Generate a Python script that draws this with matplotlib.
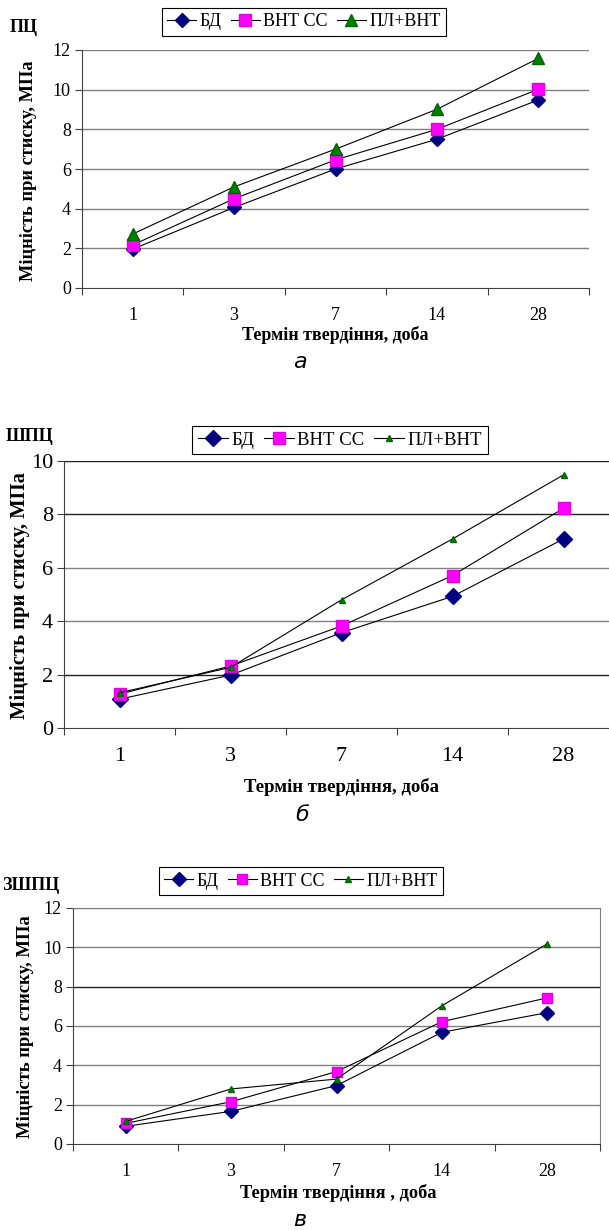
import matplotlib
matplotlib.use('Agg')
import matplotlib.pyplot as plt

# Data
days = ['1', '3', '7', '14', '28']
series_names = ['БД', 'ВНТ СС', 'ПЛ+ВНТ']

# a) ПЦ
pc_bd = [1.96, 4.06, 6.0, 7.5, 9.48]
pc_vnt = [2.17, 4.5, 6.46, 8.0, 10.02]
pc_pl = [2.72, 5.1, 7.0, 9.01, 11.58]

# б) ШПЦ
shpc_bd = [1.08, 1.98, 3.57, 4.93, 7.08]
shpc_vnt = [1.27, 2.32, 3.82, 5.71, 8.23]
shpc_pl = [1.32, 2.27, 4.8, 7.08, 9.48]

# в) ЗШПЦ
zshpc_bd = [0.9, 1.66, 2.97, 5.68, 6.68]
zshpc_vnt = [1.05, 2.15, 3.68, 6.22, 7.43]
zshpc_pl = [1.15, 2.8, 3.3, 7.03, 10.18]

W, H = 609, 1230
fig = plt.figure(figsize=(W / 100, H / 100), dpi=100)
plt.rcParams['font.family'] = ['Liberation Serif', 'DejaVu Serif']


def px(l, t, r, b):
    return [l / W, 1 - b / H, (r - l) / W, (b - t) / H]


def fx(x):
    return x / W


def fy(y):
    return 1 - y / H


def panel(box, data, ymax, tick_fs, ms, tri_ms, dark_lines, full_box):
    ax = fig.add_axes(px(*box))
    x = range(len(days))
    bd, vnt, pl = data
    ax.plot(x, bd, color='black', lw=0.8, marker='D', ms=ms[0],
            mfc='#000080', mec='#000080', label=series_names[0], zorder=3)
    ax.plot(x, vnt, color='black', lw=0.8, marker='s', ms=ms[1],
            mfc='#ff00ff', mec='#e000e0', label=series_names[1], zorder=3)
    ax.plot(x, pl, color='black', lw=0.8, marker='^', ms=tri_ms,
            mfc='#008000', mec='#006400', label=series_names[2], zorder=3)
    ax.set_xlim(-0.5, len(days) - 0.5)
    ax.set_ylim(0, ymax)
    ax.set_yticks(range(0, ymax + 1, 2))
    for v in range(2, ymax + 1, 2):
        c = '#202020' if v in dark_lines else '#808080'
        ax.axhline(v, color=c, lw=1.0, zorder=1)
    ax.set_xticks([i - 0.5 for i in range(len(days) + 1)])
    ax.set_xticklabels([])
    ax.set_xticks(list(x), minor=True)
    ax.set_xticklabels(days, minor=True)
    ax.tick_params(axis='x', which='major', direction='out', length=5,
                   color='#404040')
    ax.tick_params(axis='x', which='minor', length=0, pad=14,
                   labelsize=tick_fs)
    ax.tick_params(axis='y', direction='out', length=5, color='#404040',
                   labelsize=tick_fs, pad=3)
    for s in ['left', 'bottom']:
        ax.spines[s].set_color('#404040')
    if full_box:
        for s in ['top', 'right']:
            ax.spines[s].set_color('#808080')
    else:
        ax.spines['top'].set_visible(False)
        ax.spines['right'].set_visible(False)
    return ax


def add_legend(ax, cx, cy, fs):
    leg = ax.legend(loc='center', bbox_to_anchor=(fx(cx), fy(cy)),
                    bbox_transform=fig.transFigure, ncol=3, fontsize=fs,
                    frameon=True, fancybox=False, framealpha=1,
                    edgecolor='black', handlelength=1.6, handletextpad=0.2,
                    columnspacing=0.5, borderpad=0.3, borderaxespad=0)
    leg.get_frame().set_linewidth(0.8)


ylabel = 'Міцність при стиску, МПа'

# Panel a
ax1 = panel((82, 50, 589, 288), (pc_bd, pc_vnt, pc_pl), 12, 13,
            (7, 8), 9, [], False)
add_legend(ax1, 304, 22, 13)
fig.text(fx(10), fy(28), 'ПЦ', fontsize=13, fontweight='bold', va='center')
fig.text(fx(29), fy(171), ylabel, rotation=90, fontsize=13.2,
         fontweight='bold', ha='center', va='center')
fig.text(fx(335), fy(335), 'Термін твердіння, доба', fontsize=13,
         fontweight='bold', ha='center', va='center')
fig.text(fx(300), fy(362), 'а', fontsize=16, style='italic',
         family='DejaVu Sans', ha='center', va='center')

# Panel б
ax2 = panel((64, 461, 619, 728), (shpc_bd, shpc_vnt, shpc_pl), 10, 16,
            (8, 8.5), 5, [10, 8, 2], False)
add_legend(ax2, 340, 440, 13.5)
fig.text(fx(6), fy(437), 'ШПЦ', fontsize=13, fontweight='bold', va='center')
fig.text(fx(20), fy(596), ylabel, rotation=90, fontsize=14.9,
         fontweight='bold', ha='center', va='center')
fig.text(fx(342), fy(787), 'Термін твердіння, доба', fontsize=13.5,
         fontweight='bold', ha='center', va='center')
fig.text(fx(302), fy(815), 'б', fontsize=16, style='italic',
         family='DejaVu Sans', ha='center', va='center')

# Panel в
ax3 = panel((73, 908, 600, 1144), (zshpc_bd, zshpc_vnt, zshpc_pl), 12, 13,
            (7, 7.5), 5, [8], True)
add_legend(ax3, 301, 881, 13)
fig.text(fx(2), fy(885), 'ЗШПЦ', fontsize=13, fontweight='bold', va='center')
fig.text(fx(26), fy(1027), ylabel, rotation=90, fontsize=13.4,
         fontweight='bold', ha='center', va='center')
fig.text(fx(338), fy(1193), 'Термін твердіння , доба', fontsize=13.2,
         fontweight='bold', ha='center', va='center')
fig.text(fx(300), fy(1220), 'в', fontsize=16, style='italic',
         family='DejaVu Sans', ha='center', va='center')

fig.savefig('out.png', dpi=100)
